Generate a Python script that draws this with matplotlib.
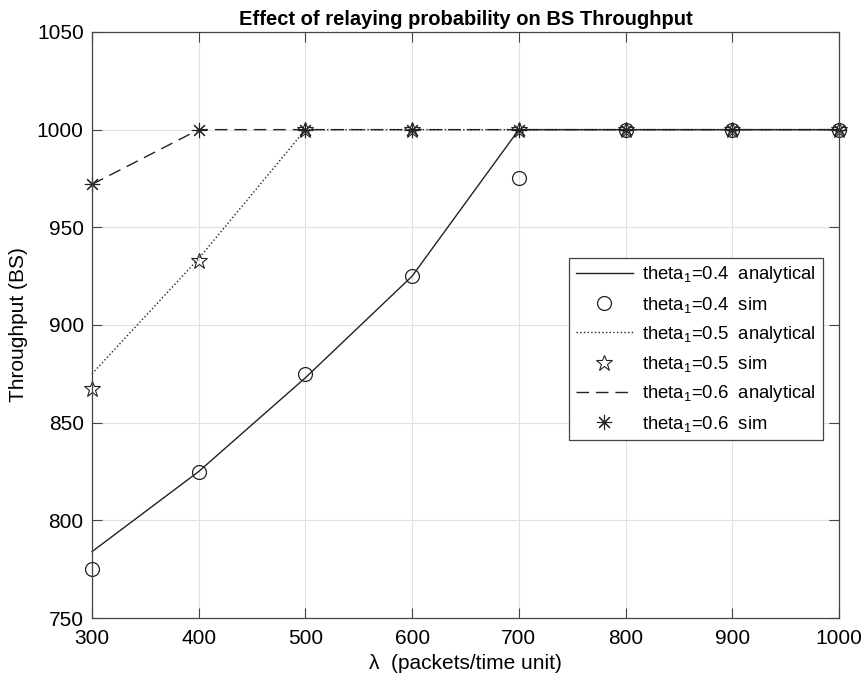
import matplotlib
matplotlib.use("Agg")
import matplotlib.pyplot as plt

plt.rcParams['font.family'] = ['Liberation Sans', 'DejaVu Sans']
plt.rcParams['mathtext.fontset'] = 'custom'
plt.rcParams['mathtext.rm'] = 'Liberation Sans'
plt.rcParams['mathtext.it'] = 'Liberation Sans'

lam = [300, 400, 500, 600, 700, 800, 900, 1000]
an_04 = [784, 825, 873, 925, 1000, 1000, 1000, 1000]
sim_04 = [775, 825, 875, 925, 975, 1000, 1000, 1000]
an_05 = [875, 934, 1000, 1000, 1000, 1000, 1000, 1000]
sim_05 = [867, 933, 1000, 1000, 1000, 1000, 1000, 1000]
an_06 = [972, 1000, 1000, 1000, 1000, 1000, 1000, 1000]
sim_06 = [972, 1000, 1000, 1000, 1000, 1000, 1000, 1000]

fig = plt.figure(figsize=(8.64, 6.86), dpi=100)
ax = fig.add_axes([0.1065, 0.0991, 0.8645, 0.8543])

c = '#222222'
ax.plot(lam, an_04, '-', color=c, lw=1.0, label=r'theta$_1$=0.4  analytical', clip_on=False)
ax.plot(lam, sim_04, 'o', mfc='none', mec=c, ms=10, mew=0.9, label=r'theta$_1$=0.4  sim', clip_on=False)
ax.plot(lam, an_05, ':', color=c, lw=1.0, label=r'theta$_1$=0.5  analytical', clip_on=False)
ax.plot(lam, sim_05, '*', mfc='none', mec=c, ms=12, mew=0.8, label=r'theta$_1$=0.5  sim', clip_on=False)
ax.plot(lam, an_06, '--', color=c, lw=1.0, dashes=(9, 5), label=r'theta$_1$=0.6  analytical', clip_on=False)
ax.plot(lam, sim_06, ls='none', marker=(8, 2, 0), color=c, ms=11, mew=0.8, label=r'theta$_1$=0.6  sim', clip_on=False)

ax.set_xlim(300, 1000)
ax.set_ylim(750, 1050)
ax.set_xticks(range(300, 1001, 100))
ax.set_yticks(range(750, 1051, 50))
ax.grid(True, color='#e0e0e0', lw=0.8)
ax.set_axisbelow(True)
ax.tick_params(direction='in', top=True, right=True, labelsize=15, length=7, color='#444444', pad=8)
ax.tick_params(axis='y', pad=6)
for s in ax.spines.values():
    s.set_color('#444444')
    s.set_linewidth(0.9)

ax.set_title('Effect of relaying probability on BS Throughput', fontsize=14.5, fontweight='bold', pad=5)
ax.set_xlabel('λ  (packets/time unit)', fontsize=15, labelpad=4)
ax.set_ylabel('Throughput (BS)', fontsize=15, labelpad=6)

leg = ax.legend(loc='center right', bbox_to_anchor=(0.978, 0.459), fontsize=13.3,
                fancybox=False, framealpha=1, edgecolor='#444444',
                handlelength=3.1, labelspacing=0.5, borderpad=0.35, handletextpad=0.5,
                borderaxespad=0)
leg.get_frame().set_linewidth(0.9)

fig.savefig('out.png', dpi=100)
